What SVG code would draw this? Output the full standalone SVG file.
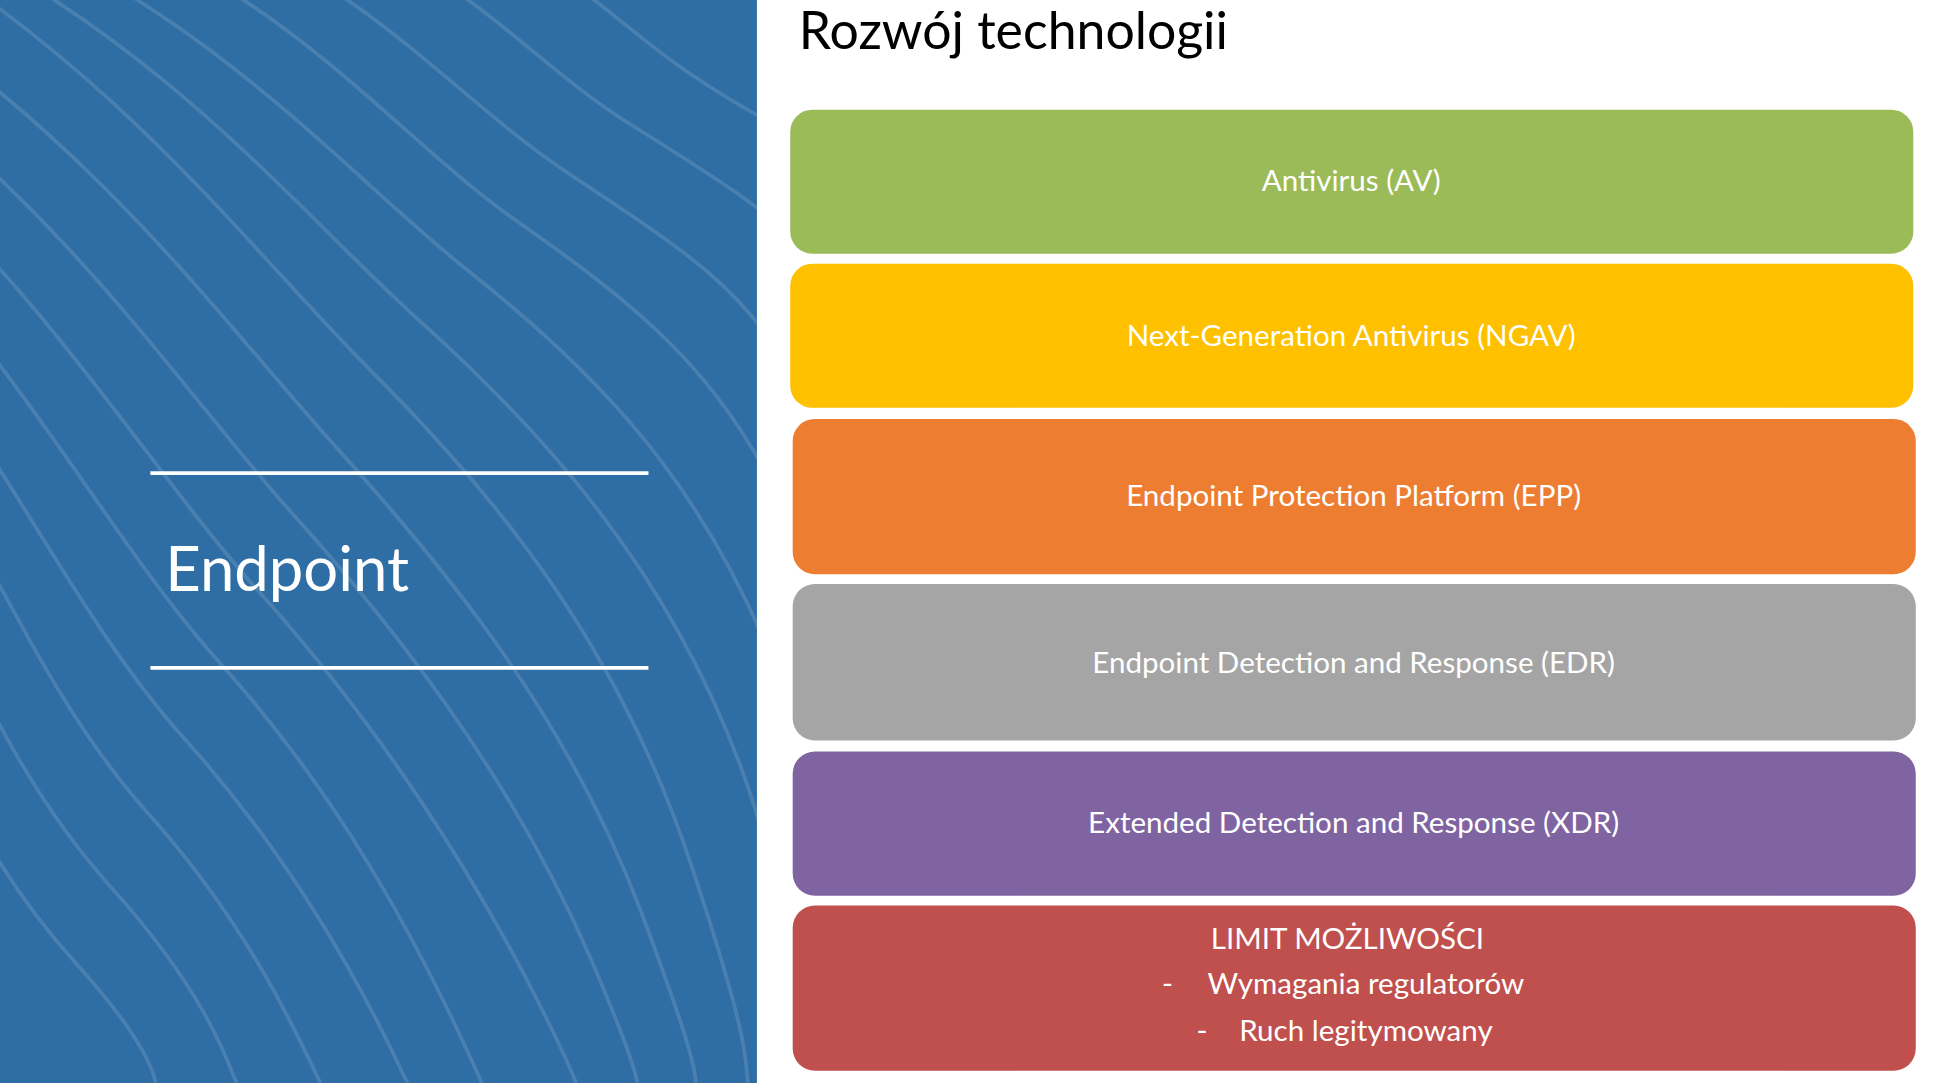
<svg xmlns="http://www.w3.org/2000/svg" width="1933" height="1083" viewBox="0 0 1933 1083">
<style>
.w{fill:none;stroke:#ffffff;stroke-opacity:0.13;stroke-width:3}
.bt{font-family:Lato,"Liberation Sans",sans-serif;font-size:24px;fill:#ffffff;text-anchor:middle}
</style>
<rect width="1933" height="1083" fill="#ffffff"/>
<g transform="scale(1.2328,1.2321)">
<g id="panel">
<rect x="0" y="0" width="614" height="879" fill="#2f6ea5"/>
<g class="w">
<path d="M-100,-60 C100,60 200,200 300,300 S500,520 560,700 S600,860 610,900"/>
<path d="M-100,0 C80,120 180,260 270,360 S460,580 520,740 S560,870 565,900"/>
<path d="M-100,60 C60,180 150,320 240,420 S420,640 480,780 S510,880 512,900"/>
<path d="M-100,120 C40,240 120,380 210,480 S380,700 440,820 S460,890 462,900"/>
<path d="M-100,180 C20,300 90,440 180,540 S340,760 400,900"/>
<path d="M-100,240 C0,360 60,500 150,600 S300,810 340,900"/>
<path d="M-100,300 C-20,420 30,560 120,660 S250,860 270,900"/>
<path d="M-100,380 C-40,500 0,620 90,720 S190,880 200,900"/>
<path d="M-100,460 C-60,580 -30,680 60,780 S120,890 130,900"/>
<path d="M-60,-60 C140,40 240,170 340,260 S540,460 600,620 S614,820 614,900"/>
<path d="M0,-60 C180,20 280,140 380,220 S560,380 620,520"/>
<path d="M80,-60 C240,0 320,110 420,180 S580,300 630,400"/>
<path d="M170,-60 C300,-10 370,80 460,140 S600,230 640,300"/>
<path d="M270,-60 C380,-20 430,50 510,100 S620,170 650,200"/>
<path d="M380,-60 C460,-30 500,20 560,60 S630,100 660,120"/>
</g>
<line x1="122" y1="384" x2="526" y2="384" stroke="#ffffff" stroke-width="3"/>
<line x1="122" y1="542" x2="526" y2="542" stroke="#ffffff" stroke-width="3"/>
<text x="134" y="480" font-family="Lato,'Liberation Sans',sans-serif" font-size="50" fill="#ffffff">Endpoint</text>
</g>
<text id="title" x="648" y="40" font-family="Lato,'Liberation Sans',sans-serif" font-size="42" fill="#000000">Rozwój technologii</text>
<g id="av"><rect x="641" y="89" width="911" height="117" rx="18" fill="#9bbb59"/><text class="bt" x="1096" y="155">Antivirus (AV)</text></g>
<g id="ngav"><rect x="641" y="214" width="911" height="117" rx="18" fill="#ffc000"/><text class="bt" x="1096" y="281">Next-Generation Antivirus (NGAV)</text></g>
<g id="epp"><rect x="643" y="340" width="911" height="126" rx="18" fill="#ed7d31"/><text class="bt" x="1098" y="411">Endpoint Protection Platform (EPP)</text></g>
<g id="edr"><rect x="643" y="474" width="911" height="127" rx="18" fill="#a5a5a5"/><text class="bt" x="1098" y="546">Endpoint Detection and Response (EDR)</text></g>
<g id="xdr"><rect x="643" y="610" width="911" height="117" rx="18" fill="#8064a2"/><text class="bt" x="1098" y="676">Extended Detection and Response (XDR)</text></g>
<g id="limit"><rect x="643" y="735" width="911" height="134" rx="18" fill="#c0504d"/>
<text class="bt" x="1093" y="770">LIMIT MOŻLIWOŚCI</text>
<text class="bt" x="947" y="807">-</text><text class="bt" x="1108" y="807">Wymagania regulatorów</text>
<text class="bt" x="975" y="845">-</text><text class="bt" x="1108" y="845">Ruch legitymowany</text>
</g>
</g>
</svg>
